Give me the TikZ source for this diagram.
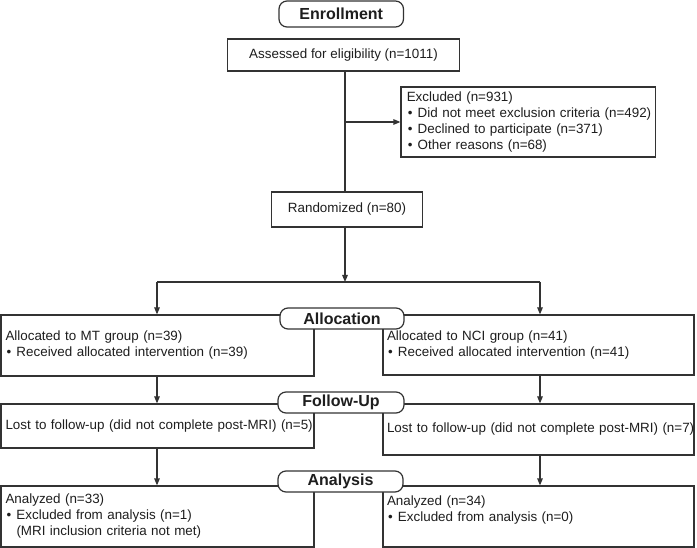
\documentclass[tikz,border=0pt]{standalone}
\usepackage{fontspec}
\setmainfont{Liberation Sans}
\usetikzlibrary{arrows.meta}
\definecolor{ln}{HTML}{333333}
\definecolor{tx}{HTML}{1E1E1E}
\newcommand{\bul}{\makebox[11pt][l]{\hspace{1pt}\textbullet}}
\begin{document}
\begin{tikzpicture}[x=1pt,y=-1pt,
  every node/.style={text=tx},
  box/.style={draw=ln, line width=1.2pt, inner ysep=0pt, inner xsep=5pt, font=\fontsize{13.4}{16}\selectfont},
  cbox/.style={box, align=center},
  lbox/.style={box, align=left},
  hdr/.style={draw=ln, line width=1.2pt, rounded corners=8pt, fill=white, inner sep=0pt, font=\bfseries\fontsize{16}{19}\selectfont},
  arr/.style={draw=ln, line width=1.2pt, -{Triangle[length=7pt,width=5.5pt]}},
  con/.style={draw=ln, line width=1.2pt}]
\useasboundingbox (0,0) rectangle (697,548);
\fill[white] (0,0) rectangle (697,548);

% boxes
\node[cbox, minimum width=232pt, minimum height=32pt] (assess) at (343.5,55) {Assessed for eligibility (n=1011)};
\node[lbox, text width=243pt, inner xsep=5.75pt, minimum height=70pt] (excl) at (528.25,122)
  {\mbox{Excluded (n=931)}\\ \mbox{\bul Did not meet exclusion criteria (n=492)}\\ \mbox{\bul Declined to participate (n=371)}\\ \mbox{\bul Other reasons (n=68)}};
\node[cbox, minimum width=151pt, minimum height=35pt] (rand) at (347,209.5) {Randomized (n=80)};

\node[lbox, text width=304pt, inner xsep=4.5pt, minimum height=61pt] (allocL) at (157.5,345.5)
  {\mbox{Allocated to MT group (n=39)}\\ \mbox{\bul Received allocated intervention (n=39)}};
\node[lbox, text width=303pt, inner xsep=4pt, minimum height=60pt] (allocR) at (538.5,345)
  {\mbox{Allocated to NCI group (n=41)}\\ \mbox{\bul Received allocated intervention (n=41)}};

\node[lbox, text width=304pt, inner xsep=4.5pt, minimum height=44pt] (followL) at (157.5,426)
  {\mbox{Lost to follow-up (did not complete post-MRI) (n=5)}};
\node[lbox, text width=303pt, inner xsep=4pt, minimum height=51pt] (followR) at (538.5,429.5)
  {\mbox{Lost to follow-up (did not complete post-MRI) (n=7)}};

\node[lbox, text width=304pt, inner xsep=4.5pt, minimum height=61pt] (anaL) at (157.5,516.5)
  {\mbox{Analyzed (n=33)}\\ \mbox{\bul Excluded from analysis (n=1)}\\ \mbox{\hspace*{11pt}(MRI inclusion criteria not met)}};
\node[lbox, text width=303pt, inner xsep=4pt, minimum height=61pt] (anaR) at (538.5,516.5)
  {\mbox{Analyzed (n=34)}\\ \mbox{\bul Excluded from analysis (n=0)}\\ \mbox{}};

% connectors
\coordinate (trunk) at (345,0);
\draw[con] (assess.south -| trunk) -- (rand.north -| trunk);
\coordinate (b1) at (345,122);
\draw[arr] (b1) -- (excl.west |- b1);
\coordinate (split) at (345,282);
\draw[arr] (rand.south -| split) -- (split);
\coordinate (sL) at (157,282);
\coordinate (sR) at (540,282);
\draw[con] (sL) -- (sR);
\draw[arr] (sL) -- (allocL.north -| sL);
\draw[arr] (sR) -- (allocR.north -| sR);
\draw[arr] (allocL.south -| sL) -- (followL.north -| sL);
\draw[arr] (allocR.south -| sR) -- (followR.north -| sR);
\draw[arr] (followL.south -| sL) -- (anaL.north -| sL);
\draw[arr] (followR.south -| sR) -- (anaR.north -| sR);

% headers
\node[hdr, minimum width=124.5pt, minimum height=26pt] (enroll) at (341.25,14) {Enrollment};
\node[hdr, minimum width=124pt, minimum height=21pt] (allocH) at (342,318.5) {Allocation};
\node[hdr, minimum width=126pt, minimum height=21pt] (followH) at (341,402.5) {Follow-Up};
\node[hdr, minimum width=125pt, minimum height=21pt] (anaH) at (340.5,481.5) {Analysis};
\end{tikzpicture}
\end{document}
